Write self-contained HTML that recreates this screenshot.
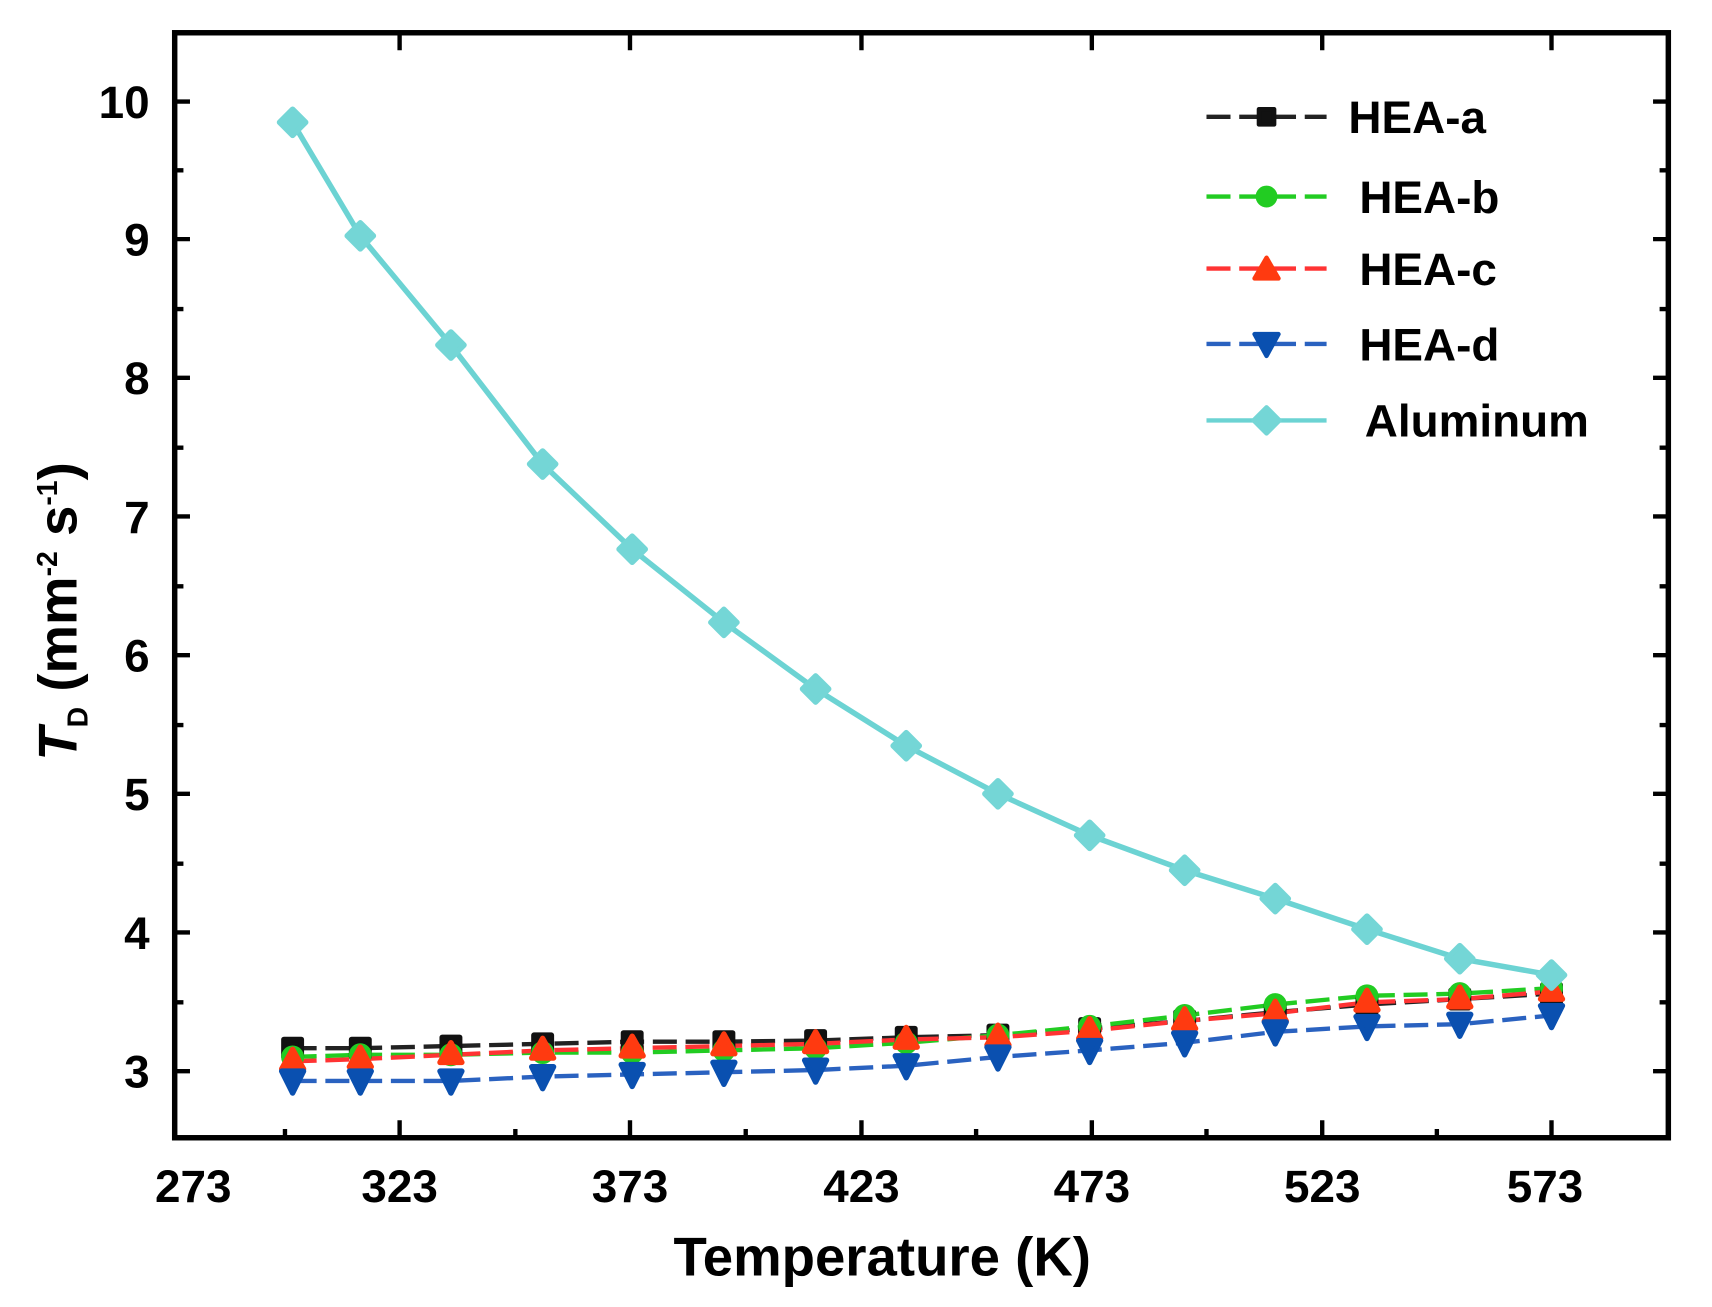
<!DOCTYPE html>
<html><head><style>html,body{margin:0;padding:0;background:#fff}svg{display:block}</style></head>
<body>
<svg width="1712" height="1307" viewBox="0 0 1568 1197" preserveAspectRatio="none" xmlns="http://www.w3.org/2000/svg" font-family="Liberation Sans, sans-serif" font-weight="bold">
<rect width="1568" height="1197" fill="#fff"/>
<g stroke="#000" stroke-width="4">
<path d="M160 93h14M160 219h14M160 346h14M160 473h14M160 600h14M160 727h14M160 854h14M160 981h14
M160 156h8M160 283h8M160 410h8M160 537h8M160 664h8M160 791h8M160 918h8
M1528 93h-14M1528 219h-14M1528 346h-14M1528 473h-14M1528 600h-14M1528 727h-14M1528 854h-14M1528 981h-14
M1528 156h-8M1528 283h-8M1528 410h-8M1528 537h-8M1528 664h-8M1528 791h-8M1528 918h-8"/>
<path d="M366 1042v-16M577 1042v-16M789 1042v-16M1000 1042v-16M1211 1042v-16M1421 1042v-16
M261 1042v-8M472 1042v-8M683 1042v-8M894 1042v-8M1105 1042v-8M1316 1042v-8
M366 30v16M577 30v16M789 30v16M1000 30v16M1211 30v16M1421 30v16"/>
</g>
<rect x="160" y="30" width="1368" height="1012" fill="none" stroke="#000" stroke-width="5"/>
<g font-size="42" text-anchor="end">
<text x="137" y="108">10</text><text x="137" y="234">9</text><text x="137" y="361">8</text><text x="137" y="488">7</text><text x="137" y="615">6</text><text x="137" y="742">5</text><text x="137" y="869">4</text><text x="137" y="996">3</text>
</g>
<g font-size="42" text-anchor="middle">
<text x="177" y="1101">273</text><text x="366" y="1101">323</text><text x="577" y="1101">373</text><text x="789" y="1101">423</text><text x="1000" y="1101">473</text><text x="1211" y="1101">523</text><text x="1415" y="1101">573</text>
</g>
<text x="808" y="1168" font-size="50" text-anchor="middle">Temperature (K)</text>
<text transform="translate(70,560) rotate(-90)" font-size="50" text-anchor="middle"><tspan font-style="italic">T</tspan><tspan font-size="26" dy="10">D</tspan><tspan dy="-10"> (mm</tspan><tspan font-size="26" dy="-18">-2</tspan><tspan dy="18"> s</tspan><tspan font-size="26" dy="-18">-1</tspan><tspan dy="18">)</tspan></text>

<g fill="none" stroke-width="4">
<polyline stroke="#222" stroke-dasharray="22 8" points="268,960 330,960 413,958 497,956 579,954 663,954 747,953 830,950 914,948 998,942 1085,935 1168,927 1252,920 1337,915 1421,910"/>
<polyline stroke="#2c2" stroke-dasharray="22 8" points="268,968 330,966 413,966 497,964 579,964 663,962 747,960 830,955 914,948 998,940 1085,930 1168,920 1252,912 1337,910 1421,905"/>
<polyline stroke="#f33" stroke-dasharray="22 8" points="268,972 330,970 413,966 497,962 579,960 663,958 747,956 830,952 914,950 998,944 1085,935 1168,928 1252,918 1337,915 1421,908"/>
<polyline stroke="#2a62c0" stroke-dasharray="22 8" points="268,990 330,990 413,990 497,986 579,984 663,982 747,980 830,976 914,968 998,962 1085,955 1168,945 1252,940 1337,938 1421,930"/>
<polyline stroke="#6cd3d3" stroke-width="5" points="268,112 330,216 413,316 497,425 579,503 663,570 747,631 830,683 914,727 998,765 1085,797 1168,823 1252,851 1337,878 1421,893"/>
</g>
<g stroke-width="5" stroke-linejoin="round">
<g fill="#111" stroke="#111"><path d="M260 952h16v16h-16zM322 952h16v16h-16zM405 950h16v16h-16zM489 948h16v16h-16zM571 946h16v16h-16zM655 946h16v16h-16zM739 945h16v16h-16zM822 942h16v16h-16zM906 940h16v16h-16zM990 934h16v16h-16zM1077 927h16v16h-16zM1160 919h16v16h-16zM1244 912h16v16h-16zM1329 907h16v16h-16zM1413 902h16v16h-16z"/></g>
<g fill="#2c2" stroke="#2c2"><circle cx="268" cy="968" r="8"/><circle cx="330" cy="966" r="8"/><circle cx="413" cy="966" r="8"/><circle cx="497" cy="964" r="8"/><circle cx="579" cy="964" r="8"/><circle cx="663" cy="962" r="8"/><circle cx="747" cy="960" r="8"/><circle cx="830" cy="955" r="8"/><circle cx="914" cy="948" r="8"/><circle cx="998" cy="940" r="8"/><circle cx="1085" cy="930" r="8"/><circle cx="1168" cy="920" r="8"/><circle cx="1252" cy="912" r="8"/><circle cx="1337" cy="910" r="8"/><circle cx="1421" cy="905" r="8"/></g>
<g fill="#ff3a10" stroke="#ff3a10"><path d="M268 961l10 18h-20zM330 959l10 18h-20zM413 955l10 18h-20zM497 951l10 18h-20zM579 949l10 18h-20zM663 947l10 18h-20zM747 945l10 18h-20zM830 941l10 18h-20zM914 939l10 18h-20zM998 933l10 18h-20zM1085 924l10 18h-20zM1168 917l10 18h-20zM1252 907l10 18h-20zM1337 904l10 18h-20zM1421 897l10 18h-20z"/></g>
<g fill="#0a50b0" stroke="#0a50b0"><path d="M258 981h20l-10 20zM320 981h20l-10 20zM403 981h20l-10 20zM487 977h20l-10 20zM569 975h20l-10 20zM653 973h20l-10 20zM737 971h20l-10 20zM820 967h20l-10 20zM904 959h20l-10 20zM988 953h20l-10 20zM1075 946h20l-10 20zM1158 936h20l-10 20zM1242 931h20l-10 20zM1327 929h20l-10 20zM1411 921h20l-10 20z"/></g>
<g fill="#74d6d6" stroke="#74d6d6"><path d="M268 100l12 12-12 12-12-12zM330 204l12 12-12 12-12-12zM413 304l12 12-12 12-12-12zM497 413l12 12-12 12-12-12zM579 491l12 12-12 12-12-12zM663 558l12 12-12 12-12-12zM747 619l12 12-12 12-12-12zM830 671l12 12-12 12-12-12zM914 715l12 12-12 12-12-12zM998 753l12 12-12 12-12-12zM1085 785l12 12-12 12-12-12zM1168 811l12 12-12 12-12-12zM1252 839l12 12-12 12-12-12zM1337 866l12 12-12 12-12-12zM1421 881l12 12-12 12-12-12z"/></g>
</g>
<g stroke-width="4">
<path d="M1105 107h110" stroke="#222" stroke-dasharray="22 8"/>
<path d="M1105 180h110" stroke="#2c2" stroke-dasharray="22 8"/>
<path d="M1105 246h110" stroke="#f33" stroke-dasharray="22 8"/>
<path d="M1105 315h110" stroke="#2a62c0" stroke-dasharray="22 8"/>
<path d="M1105 385h110" stroke="#6cd3d3"/>
</g>
<g stroke-width="4" stroke-linejoin="round">
<rect x="1153" y="100" width="14" height="14" fill="#111" stroke="#111"/>
<circle cx="1160" cy="180" r="8" fill="#2c2" stroke="#2c2"/>
<path d="M1160 236l11 19h-22z" fill="#ff3a10" stroke="#ff3a10"/>
<path d="M1149 306h22l-11 20z" fill="#0a50b0" stroke="#0a50b0"/>
<path d="M1160 373l12 12-12 12-12-12z" fill="#74d6d6" stroke="#74d6d6"/>
</g>
<g font-size="42">
<text x="1235" y="122">HEA-a</text>
<text x="1245" y="195">HEA-b</text>
<text x="1245" y="261">HEA-c</text>
<text x="1245" y="330">HEA-d</text>
<text x="1250" y="400">Aluminum</text>
</g>
</svg>
</body></html>
